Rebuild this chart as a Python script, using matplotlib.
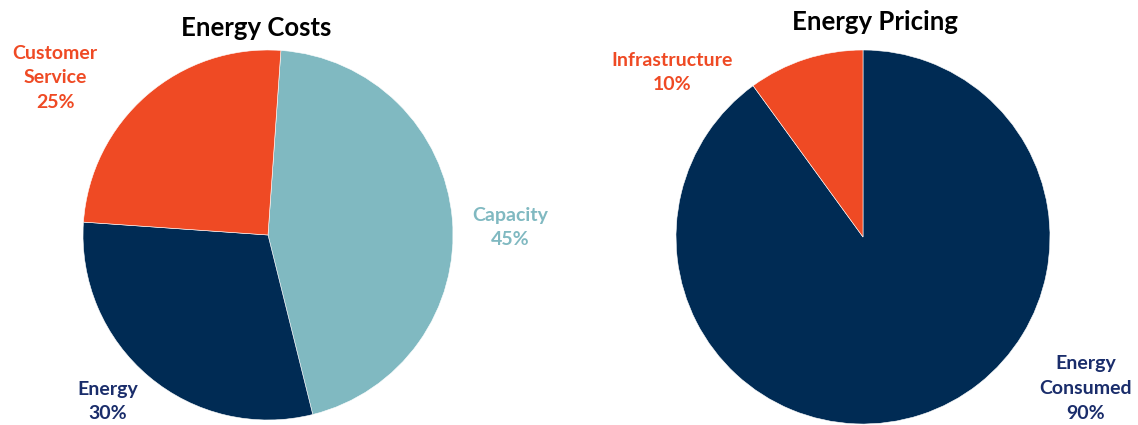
import matplotlib
matplotlib.use("Agg")
import matplotlib.pyplot as plt

W, H, DPI = 1138, 425, 100

cost_labels = ["Capacity", "Energy", "Customer\nService"]
cost_values = [45, 30, 25]
cost_colors = ["#80B9C1", "#002B54", "#EF4A24"]
cost_text_colors = ["#80B9C1", "#1A2D6B", "#EF4A24"]

price_labels = ["Energy\nConsumed", "Infrastructure"]
price_values = [90, 10]
price_colors = ["#002B54", "#EF4A24"]
price_text_colors = ["#1A2D6B", "#EF4A24"]

plt.rcParams['font.family'] = ['Lato', 'DejaVu Sans']

fig = plt.figure(figsize=(W / DPI, H / DPI), dpi=DPI)


def pie_axes(cx, cy, r, a=1.5):
    size = 2 * a * r
    left = (cx - a * r) / W
    bottom = ((H - cy) - a * r) / H
    ax = fig.add_axes([left, bottom, size / W, size / H])
    ax.set_xlim(-a, a)
    ax.set_ylim(-a, a)
    ax.axis("off")
    return ax


# Left pie
ax1 = pie_axes(268, 235, 185)
ax1.pie(cost_values, colors=cost_colors, startangle=86, counterclock=False,
        radius=1, wedgeprops=dict(edgecolor="white", linewidth=0.4))
ax1.set_xlim(-1.5, 1.5)
ax1.set_ylim(-1.5, 1.5)
cost_pos = [(1.31, 0.04), (-0.865, -0.90), (-1.15, 0.85)]
for lab, v, c, (x, y) in zip(cost_labels, cost_values, cost_text_colors, cost_pos):
    ax1.text(x, y, f"{lab}\n{v}%", ha="center", va="center", color=c,
             fontsize=14, fontweight="bold", linespacing=1.55)

# Right pie
ax2 = pie_axes(863, 237, 187)
ax2.pie(price_values, colors=price_colors, startangle=90, counterclock=False,
        radius=1, wedgeprops=dict(edgecolor="white", linewidth=0.4))
ax2.set_xlim(-1.5, 1.5)
ax2.set_ylim(-1.5, 1.5)
price_pos = [(1.19, -0.81), (-1.02, 0.88)]
for lab, v, c, (x, y) in zip(price_labels, price_values, price_text_colors, price_pos):
    ax2.text(x, y, f"{lab}\n{v}%", ha="center", va="center", color=c,
             fontsize=14, fontweight="bold", linespacing=1.55)

fig.text(256 / W, 1 - 28 / H, "Energy Costs", ha="center", va="center",
         fontsize=18.5, fontweight="bold", color="black")
fig.text(875 / W, 1 - 22 / H, "Energy Pricing", ha="center", va="center",
         fontsize=18.5, fontweight="bold", color="black")

fig.savefig("out.png", dpi=DPI)
